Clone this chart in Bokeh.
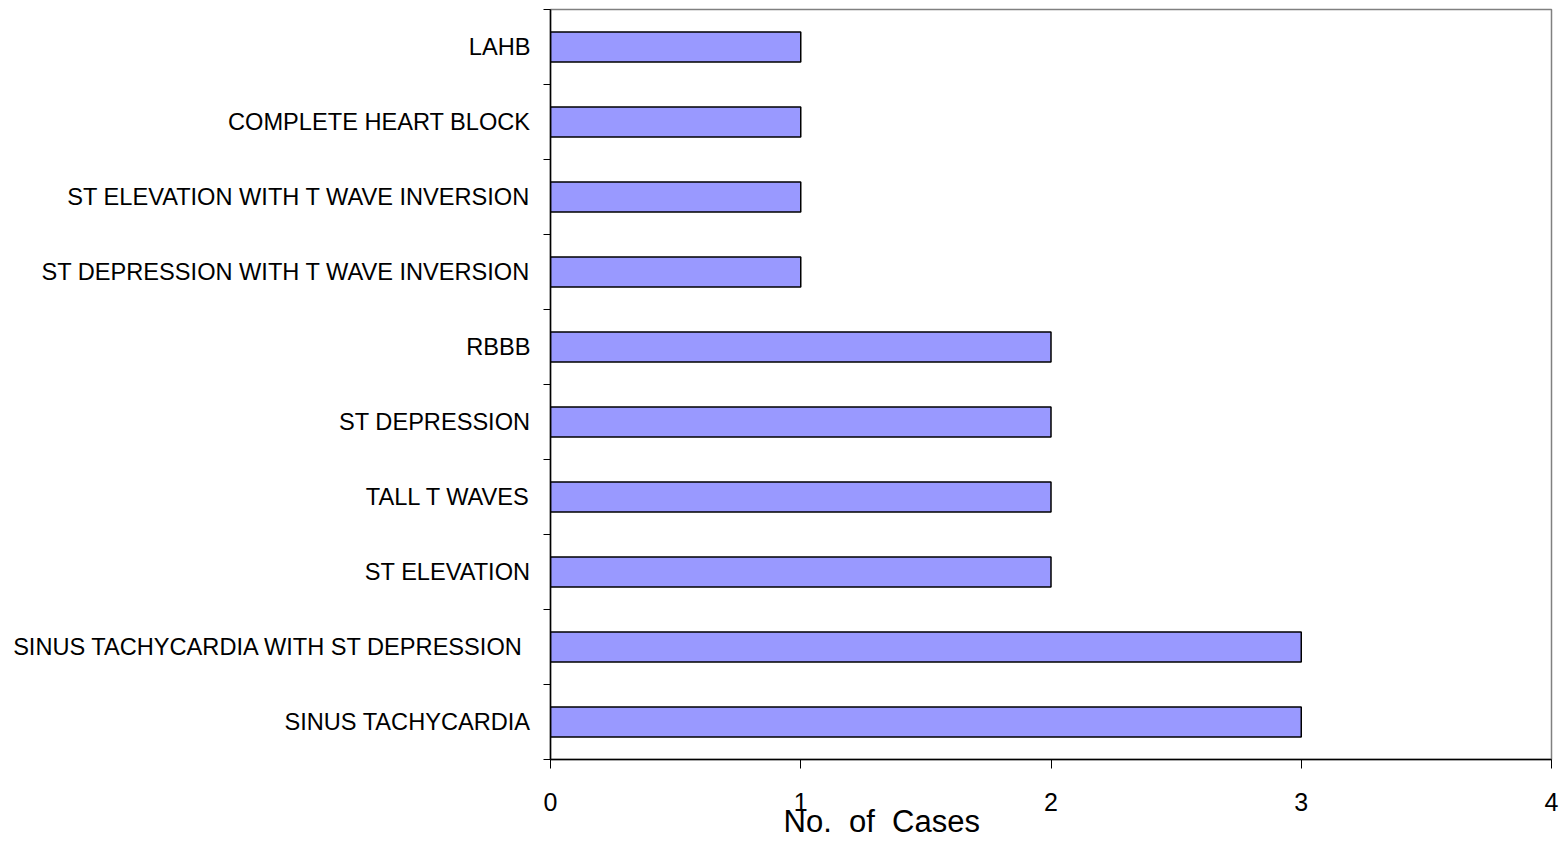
from bokeh.plotting import figure
from bokeh.models import FixedTicker, Range1d, Title, ColumnDataSource
from bokeh.embed import file_html
from bokeh.resources import INLINE

# Data (bottom to top)
categories = [
    "SINUS TACHYCARDIA",
    "SINUS TACHYCARDIA WITH ST DEPRESSION ",
    "ST ELEVATION",
    "TALL T WAVES",
    "ST DEPRESSION",
    "RBBB",
    "ST DEPRESSION WITH T WAVE INVERSION",
    "ST ELEVATION WITH T WAVE INVERSION",
    "COMPLETE HEART BLOCK",
    "LAHB",
]
cases = [3, 3, 2, 2, 2, 2, 1, 1, 1, 1]
x_ticks = [0, 1, 2, 3, 4]
x_title = "No.\u00a0\u00a0of\u00a0\u00a0Cases"

n = len(categories)
pos = [i + 0.5 for i in range(n)]
src = ColumnDataSource(dict(y=pos, right=cases, name=categories))

FONT = "Liberation Sans"

p = figure(width=1560, height=841, output_backend="svg", toolbar_location=None,
           x_range=Range1d(0, 4), y_range=Range1d(0, n),
           min_border_left=550, min_border_right=9, min_border_top=9,
           min_border_bottom=82)

p.hbar(y="y", right="right", left=0, height=0.4, source=src,
       fill_color="#9999FF", line_color="black", line_width=1.5)

p.xgrid.visible = False
p.ygrid.visible = False
p.outline_line_color = "#808080"
p.outline_line_width = 1.5
p.background_fill_color = "white"
p.border_fill_color = "white"

# Y axis: labels at category centers, tick marks at boundaries
yax = p.yaxis[0]
yax.ticker = FixedTicker(ticks=pos, minor_ticks=list(range(n + 1)))
yax.major_label_overrides = {pv: c for pv, c in zip(pos, categories)}
yax.major_tick_out = 0
yax.major_tick_in = 0
yax.minor_tick_out = 7
yax.minor_tick_in = 0
yax.minor_tick_line_color = "black"
yax.axis_line_color = "black"
yax.axis_line_width = 1.5
yax.major_label_standoff = 13
yax.major_label_text_font = FONT
yax.major_label_text_font_size = "23.6px"
yax.major_label_text_color = "black"

# X axis
xax = p.xaxis[0]
xax.ticker = FixedTicker(ticks=x_ticks, minor_ticks=[])
xax.major_tick_out = 9
xax.major_tick_in = 0
xax.major_tick_line_color = "black"
xax.axis_line_color = "black"
xax.axis_line_width = 1.5
xax.major_label_standoff = 24
xax.major_label_text_font = FONT
xax.major_label_text_font_size = "25px"
xax.major_label_text_color = "black"

title = Title(text=x_title, align="left", offset=233, vertical_align="top",
              standoff=-20, text_font=FONT, text_font_size="31px",
              text_font_style="normal", text_color="black")
p.add_layout(title, "below")

open("out.html", "w").write(file_html(p, INLINE))
